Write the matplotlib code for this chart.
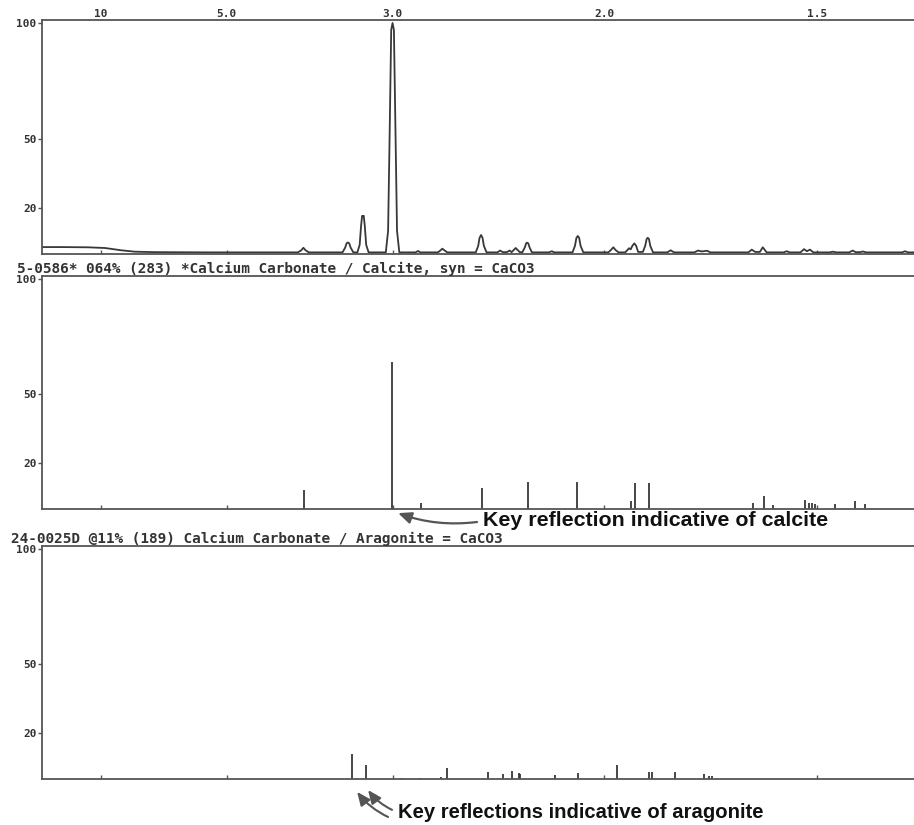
import numpy as np
import matplotlib
matplotlib.use("Agg")
import matplotlib.pyplot as plt

# ---- data (2-theta in degrees, intensity in %) ----
# measured pattern, points along the trace
obs_points = [
    (3.64, 3.0), (5.0, 3.0), (7.0, 2.9), (8.3, 2.6), (9.5, 1.6), (10.5, 1.0),
    (12.0, 0.8), (16.0, 0.7), (22.55, 0.7),
    (22.8, 1.6), (22.96, 2.7), (23.12, 1.6), (23.37, 0.7),
    (25.85, 0.7), (26.05, 2.8), (26.15, 4.6), (26.24, 5.0), (26.35, 4.6),
    (26.45, 2.8), (26.65, 0.7),
    (26.95, 0.7), (27.12, 4.0), (27.22, 12.0), (27.3, 16.5), (27.42, 16.5),
    (27.5, 12.0), (27.6, 4.0), (27.78, 0.7),
    (29.05, 0.7), (29.22, 10.0), (29.33, 50.0), (29.45, 97.0), (29.55, 100.0),
    (29.65, 97.0), (29.77, 50.0), (29.88, 10.0), (30.05, 0.7),
    (31.25, 0.7), (31.43, 1.3), (31.6, 0.7),
    (32.9, 0.7), (33.1, 1.6), (33.23, 2.3), (33.38, 1.6), (33.6, 0.7),
    (35.7, 0.7), (35.88, 3.5), (35.98, 7.0), (36.09, 8.2), (36.2, 7.0),
    (36.3, 3.5), (36.5, 0.7),
    (37.3, 0.7), (37.5, 1.5), (37.7, 0.8), (38.0, 0.8), (38.2, 1.5), (38.35, 0.8),
    (38.52, 1.8), (38.65, 2.6), (38.78, 1.8), (38.95, 0.8),
    (39.15, 0.8), (39.32, 2.8), (39.42, 4.6), (39.49, 4.9), (39.58, 4.6),
    (39.68, 2.8), (39.85, 0.7),
    (41.1, 0.7), (41.32, 1.2), (41.5, 0.7),
    (42.85, 0.7), (43.03, 3.5), (43.14, 7.0), (43.24, 7.8), (43.34, 7.0),
    (43.45, 3.5), (43.65, 0.7),
    (45.5, 0.7), (45.7, 1.8), (45.87, 2.9), (46.02, 1.8), (46.25, 0.7),
    (46.75, 0.7), (46.92, 1.8), (47.03, 2.5), (47.15, 2.0), (47.28, 3.6),
    (47.42, 4.6), (47.55, 3.6), (47.7, 0.9),
    (48.05, 0.9), (48.22, 3.5), (48.33, 6.5), (48.41, 7.0), (48.5, 6.5),
    (48.6, 3.5), (48.8, 0.7),
    (49.85, 0.7), (50.11, 1.6), (50.35, 0.7),
    (51.85, 0.7), (52.13, 1.5), (52.4, 1.1), (52.79, 1.4), (53.05, 0.7),
    (55.85, 0.7), (56.1, 1.9), (56.35, 0.9), (56.7, 0.9), (56.91, 2.9), (57.2, 0.7),
    (58.45, 0.7), (58.68, 1.2), (58.9, 0.7),
    (59.7, 0.7), (59.96, 2.1), (60.18, 1.2), (60.4, 1.9), (60.65, 0.7),
    (61.85, 0.7), (62.1, 1.0), (62.35, 0.7),
    (63.3, 0.7), (63.56, 1.5), (63.78, 0.8), (64.1, 0.8), (64.32, 1.1), (64.55, 0.7),
    (67.2, 0.7), (67.43, 1.2), (67.65, 0.7), (68.09, 0.7),
]

# calcite reference card 5-0586 (scaled 64%)
calcite_pos = [23.01, 29.51, 31.63, 36.19, 39.56, 43.21, 47.15, 47.50, 48.49,
               56.19, 57.00, 57.69, 60.06, 60.36, 60.53, 60.75, 62.23, 63.71, 64.47]
calcite_int = [8.1, 64.0, 2.6, 9.1, 11.8, 11.8, 3.6, 11.2, 11.2,
               2.7, 5.7, 1.6, 3.9, 2.7, 2.5, 2.0, 2.0, 3.6, 2.2]

# aragonite reference card 24-0025 (scaled 11%)
aragonite_pos = [26.58, 27.57, 30.23, 31.58, 33.13, 33.58, 36.59, 37.74, 38.36,
                 38.88, 38.97, 41.56, 43.28, 46.16, 48.53, 48.75, 50.43, 52.57,
                 52.96, 53.14]
aragonite_int = [10.9, 6.1, 0.6, 0.5, 1.0, 4.9, 3.0, 2.0, 3.5,
                 2.8, 2.3, 1.7, 2.4, 6.2, 3.1, 3.1, 3.0, 2.3,
                 1.3, 1.3]

# d-spacing labels on the top axis and where they sit in 2-theta
d_tick_pos = [8.0, 17.3, 29.55, 45.2, 60.9]
d_tick_labels = ["10", "5.0", "3.0", "2.0", "1.5"]

y_ticks = [20, 50, 100]
calcite_title = "5-0586* 064% (283) *Calcium Carbonate / Calcite, syn = CaCO3"
aragonite_title = "24-0025D @11% (189) Calcium Carbonate / Aragonite = CaCO3"

# ---- figure ----
W, H = 914, 825
fig = plt.figure(figsize=(W / 100, H / 100), dpi=100)

ink = "#383838"
frame = "#555555"
mono = dict(family="DejaVu Sans Mono", weight="bold", color="#333333")


def px_box(left, top, bottom, right=W):
    # axes rectangle from pixel edges
    return [left / W, 1 - bottom / H, (right - left) / W, (bottom - top) / H]


def style_panel(ax):
    ax.set_xlim(3.64, 68.09)
    ax.set_ylim(0, 101.3)
    for side in ["top", "left", "bottom"]:
        ax.spines[side].set_color(frame)
        ax.spines[side].set_linewidth(1.3)
    ax.spines["right"].set_visible(False)
    ax.set_yticks(y_ticks)
    ax.set_yticklabels([str(v) for v in y_ticks], fontsize=8, **mono)
    ax.tick_params(axis="y", length=3, width=1, color=frame, pad=1)
    ax.set_xticks(d_tick_pos)
    ax.tick_params(axis="x", direction="in", length=3, width=1, color=frame,
                   labelbottom=False)


ax1 = fig.add_axes(px_box(42, 20, 254))
ax2 = fig.add_axes(px_box(42, 276, 509))
ax3 = fig.add_axes(px_box(42, 545.7, 779))

for ax in (ax1, ax2, ax3):
    style_panel(ax)

# measured pattern
tt = [p[0] for p in obs_points]
ii = [p[1] for p in obs_points]
ax1.plot(tt, ii, color=ink, lw=1.3, solid_joinstyle="round")

top = ax1.secondary_xaxis("top")
top.set_xticks(d_tick_pos)
top.set_xticklabels(d_tick_labels, fontsize=8, **mono)
top.tick_params(length=0, pad=1)
top.spines["top"].set_visible(False)

# reference sticks
ax2.vlines(calcite_pos, 0, calcite_int, color=ink, lw=1.3)
ax3.vlines(aragonite_pos, 0, aragonite_int, color=ink, lw=1.3)

fig.text(17 / W, 1 - 269 / H, calcite_title, fontsize=10.4, va="center", **mono)
fig.text(11 / W, 1 - 539 / H, aragonite_title, fontsize=10.4, va="center", **mono)

# annotations
bold = dict(family=["Liberation Sans", "DejaVu Sans"], weight="bold", color="#111111")
head = "-|>,head_length=0.8,head_width=0.35"

fig.text(483 / W, 1 - 520 / H, "Key reflection indicative of calcite",
         fontsize=15.4, va="center", ha="left", **bold)
ax2.annotate("", xy=(29.96, -1.8), xycoords="data",
             xytext=(477 / W, 1 - 522 / H), textcoords="figure fraction",
             annotation_clip=False,
             arrowprops=dict(arrowstyle=head, color="#555555", lw=1.6,
                             shrinkA=0, shrinkB=0,
                             connectionstyle="arc3,rad=-0.12"))

fig.text(398 / W, 1 - 812 / H, "Key reflections indicative of aragonite",
         fontsize=14.6, va="center", ha="left", **bold)
for x_head, y_head, x_tail, y_tail in [(26.93, -5.6, 29.22, -16.5),
                                       (27.74, -4.8, 29.51, -13.4)]:
    ax3.annotate("", xy=(x_head, y_head), xytext=(x_tail, y_tail),
                 annotation_clip=False,
                 arrowprops=dict(arrowstyle=head, color="#555555", lw=1.5,
                                 shrinkA=0, shrinkB=0,
                                 connectionstyle="arc3,rad=-0.12"))

fig.savefig("out.png", dpi=100, facecolor="white")
